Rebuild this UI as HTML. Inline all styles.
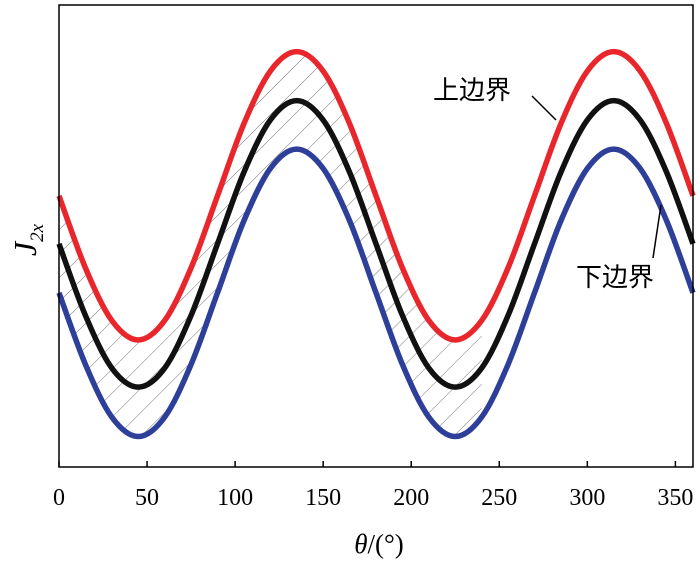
<!DOCTYPE html>
<html><head><meta charset="utf-8"><style>
body{margin:0;background:#fff}
svg{display:block;font-family:"Liberation Serif","Noto Serif CJK SC",serif}
</style></head><body>
<svg id="chart" width="700" height="561" viewBox="0 0 700 561">
<defs>
<pattern id="hatch" patternUnits="userSpaceOnUse" width="17" height="17" patternTransform="rotate(45)">
<line x1="0" y1="0" x2="0" y2="17" stroke="#666" stroke-width="0.9"/>
</pattern>
<clipPath id="bandclip"><path id="bandpath" d=""/></clipPath>
</defs>
<g id="plot"></g>
</svg>
<script>
const angles=[0,15,30,45,60,75,90,105,120,135,150,165,180,195,210,225,240,255,270,285,300,315,330,345,360];
const upperVals=[5.87,4.31,3.17,2.75,3.17,4.31,5.87,7.43,8.57,8.99,8.57,7.43,5.87,4.31,3.17,2.75,3.17,4.31,5.87,7.43,8.57,8.99,8.57,7.43,5.87];
const midVals=[4.83,3.28,2.14,1.73,2.14,3.28,4.83,6.38,7.51,7.93,7.51,6.38,4.83,3.28,2.14,1.73,2.14,3.28,4.83,6.38,7.51,7.93,7.51,6.38,4.83];
const lowerVals=[3.77,2.22,1.08,0.66,1.08,2.22,3.77,5.33,6.46,6.88,6.46,5.33,3.77,2.22,1.08,0.66,1.08,2.22,3.77,5.33,6.46,6.88,6.46,5.33,3.77];
const xTicks=[0,50,100,150,200,250,300,350];
const hatchEnd=240;

const L=59,R=693,T=5,B=467;
const xs=v=>L+(v/360)*(R-L);
const ys=v=>B-(v/10)*(B-T);
const NS="http://www.w3.org/2000/svg";
const g=document.getElementById('plot');
function mk(tag,attrs){const e=document.createElementNS(NS,tag);for(const k in attrs)e.setAttribute(k,attrs[k]);g.appendChild(e);return e;}
function pts(vals){return angles.map((a,i)=>[xs(a),ys(vals[i])]);}
function spline(p,start){let d=start?`M${p[0][0]},${p[0][1]}`:`L${p[0][0]},${p[0][1]}`;
 for(let i=0;i<p.length-1;i++){const p0=p[i-1]||p[i],p1=p[i],p2=p[i+1],p3=p[i+2]||p2;
  const c1=[p1[0]+(p2[0]-p0[0])/6,p1[1]+(p2[1]-p0[1])/6],c2=[p2[0]-(p3[0]-p1[0])/6,p2[1]-(p3[1]-p1[1])/6];
  d+=`C${c1[0]},${c1[1]} ${c2[0]},${c2[1]} ${p2[0]},${p2[1]}`;}return d;}

const up=pts(upperVals),lo=pts(lowerVals).reverse();
document.getElementById('bandpath').setAttribute('d',spline(up,true)+spline(lo,false)+'Z');
const hatch=mk('rect',{x:L,y:T,width:xs(hatchEnd)-L,height:B-T,fill:'url(#hatch)','clip-path':'url(#bandclip)'});



const series=[[upperVals,'#e8262b','upper-boundary-line'],[midVals,'#111','middle-line'],[lowerVals,'#2e3f9a','lower-boundary-line']];
series.forEach(s=>{const p=mk('path',{d:spline(pts(s[0]),true),fill:'none',stroke:s[1],'stroke-width':5.5});
 
 });

const frame=mk('rect',{x:L,y:T,width:R-L,height:B-T,fill:'none',stroke:'#000','stroke-width':1.5});



xTicks.forEach(t=>{const x=xs(t);
 const tk=mk('line',{x1:x,y1:B,x2:x,y2:B-6,stroke:'#000','stroke-width':1.5});
 
 
 const lb=mk('text',{x:x,y:B+38,'text-anchor':'middle','font-size':24});lb.textContent=t;
 
 });
</script>
<svg width="700" height="561" style="position:absolute;left:0;top:0">
<text x="379" y="553" font-size="27" text-anchor="middle" font-family="Liberation Serif,Noto Serif CJK SC,serif"><tspan font-style="italic">θ</tspan>/(°)</text>
<g transform="translate(36,240) rotate(-90)">
<text x="0" y="0" font-size="32" font-style="italic" text-anchor="middle" font-family="Liberation Serif,serif">J<tspan font-size="19" dy="7">2x</tspan></text></g>
<text x="433" y="99" font-size="26" font-family="Noto Sans CJK SC,sans-serif">上边界</text>
<line x1="532" y1="96" x2="556" y2="120" stroke="#000" stroke-width="1.5"/>
<text x="576" y="286" font-size="26" font-family="Noto Sans CJK SC,sans-serif">下边界</text>
<line x1="661" y1="205" x2="653" y2="258" stroke="#000" stroke-width="1.5"/>
</svg>
</body></html>
